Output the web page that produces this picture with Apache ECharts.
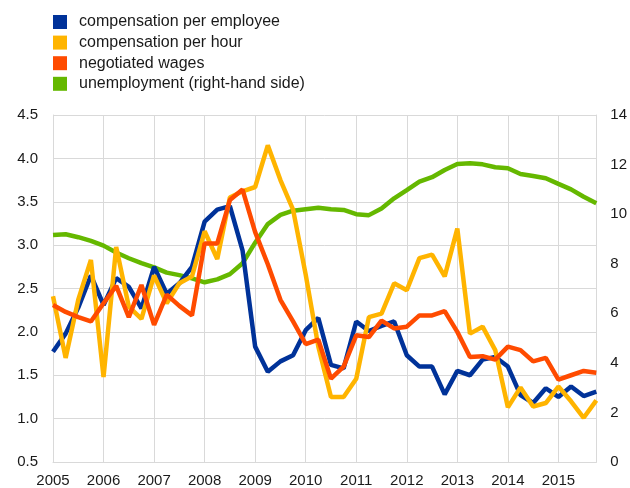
<!DOCTYPE html>
<html>
<head>
<meta charset="utf-8">
<script src="https://cdn.jsdelivr.net/npm/echarts@6/dist/echarts.min.js"></script>
<style>
  html, body { margin: 0; padding: 0; background: #fff; }
  #chart { width: 630px; height: 488px; }
</style>
</head>
<body>
<div id="chart"></div>
<script>
  // quarterly data, 2005 Q1 - 2015 Q4
  var years = ["2005", "2006", "2007", "2008", "2009", "2010", "2011", "2012", "2013", "2014", "2015"];
  var quarters = [];
  years.forEach(function (y) {
    ["Q1", "Q2", "Q3", "Q4"].forEach(function (q) { quarters.push(y + " " + q); });
  });

  var compPerEmployee = [1.77, 1.98, 2.28, 2.65, 2.31, 2.62, 2.52, 2.27, 2.75, 2.44, 2.56, 2.75,
    3.27, 3.41, 3.45, 2.94, 1.83, 1.54, 1.66, 1.73, 2.02, 2.16, 1.62, 1.58,
    2.12, 2.01, 2.07, 2.12, 1.73, 1.60, 1.60, 1.28, 1.55, 1.50, 1.68, 1.71,
    1.60, 1.27, 1.18, 1.35, 1.25, 1.37, 1.26, 1.31];
  var compPerHour = [2.41, 1.70, 2.37, 2.83, 1.48, 2.98, 2.29, 2.15, 2.65, 2.33, 2.56, 2.64,
    3.16, 2.84, 3.55, 3.62, 3.67, 4.15, 3.75, 3.41, 2.66, 1.83, 1.25, 1.25,
    1.46, 2.17, 2.21, 2.56, 2.48, 2.85, 2.89, 2.64, 3.19, 1.98, 2.06, 1.79,
    1.13, 1.36, 1.14, 1.18, 1.37, 1.20, 1.01, 1.21];
  var negotiatedWages = [2.31, 2.23, 2.17, 2.12, 2.33, 2.53, 2.17, 2.54, 2.08, 2.43, 2.30, 2.19,
    3.02, 3.02, 3.52, 3.64, 3.15, 2.78, 2.37, 2.12, 1.86, 1.91, 1.46, 1.60,
    1.96, 1.94, 2.13, 2.04, 2.06, 2.19, 2.19, 2.24, 2.00, 1.71, 1.72, 1.68,
    1.83, 1.79, 1.66, 1.70, 1.45, 1.50, 1.55, 1.53];
  var unemployment = [9.16, 9.19, 9.07, 8.92, 8.73, 8.45, 8.22, 8.02, 7.85, 7.64, 7.54, 7.41,
    7.25, 7.37, 7.58, 8.02, 8.85, 9.60, 9.97, 10.14, 10.20, 10.26, 10.20, 10.17,
    10.00, 9.96, 10.23, 10.64, 10.97, 11.31, 11.49, 11.78, 12.02, 12.05, 12.01, 11.89,
    11.85, 11.62, 11.54, 11.45, 11.22, 11.00, 10.70, 10.44];

  var gridColor = "#d9d9d9";
  var textColor = "#1a1a1a";
  var font = "Liberation Sans, Arial, sans-serif";

  var chart = echarts.init(document.getElementById("chart"), null, { renderer: "canvas" });
  chart.setOption({
    animation: false,
    textStyle: { fontFamily: font },
    legend: {
      orient: "vertical",
      left: 53,
      top: 14,
      padding: 0,
      icon: "rect",
      itemWidth: 14,
      itemHeight: 14,
      itemGap: 4.6,
      selectedMode: false,
      textStyle: { fontSize: 16, color: textColor, fontFamily: font, padding: [0, 0, 0, 7] },
      data: ["compensation per employee", "compensation per hour", "negotiated wages", "unemployment (right-hand side)"]
    },
    grid: { left: 53, right: 33, top: 115, bottom: 26 },
    xAxis: {
      type: "category",
      boundaryGap: false,
      data: quarters,
      axisLine: { show: true, lineStyle: { color: gridColor } },
      axisTick: { show: false },
      axisLabel: {
        interval: 3,
        fontSize: 15,
        color: textColor,
        margin: 11,
        formatter: function (v) { return v.slice(0, 4); }
      },
      splitLine: { show: true, interval: 3, lineStyle: { color: gridColor } }
    },
    yAxis: [
      {
        type: "value",
        min: 0.5,
        max: 4.5,
        interval: 0.5,
        axisLine: { show: true, lineStyle: { color: gridColor } },
        axisTick: { show: false },
        axisLabel: {
          fontSize: 15,
          color: textColor,
          margin: 15,
          formatter: function (v) { return v.toFixed(1); }
        },
        splitLine: { show: true, lineStyle: { color: gridColor } }
      },
      {
        type: "value",
        min: 0,
        max: 14,
        interval: 2,
        axisLine: { show: true, lineStyle: { color: gridColor } },
        axisTick: { show: false },
        axisLabel: { fontSize: 15, color: textColor, margin: 14 },
        splitLine: { show: false }
      }
    ],
    series: [
      {
        name: "unemployment (right-hand side)",
        type: "line",
        yAxisIndex: 1,
        data: unemployment,
        showSymbol: false,
        itemStyle: { color: "#65b800" },
        lineStyle: { width: 4.5, color: "#65b800" }
      },
      {
        name: "compensation per employee",
        type: "line",
        data: compPerEmployee,
        showSymbol: false,
        itemStyle: { color: "#003299" },
        lineStyle: { width: 4.5, color: "#003299" }
      },
      {
        name: "compensation per hour",
        type: "line",
        data: compPerHour,
        showSymbol: false,
        itemStyle: { color: "#ffb400" },
        lineStyle: { width: 4.5, color: "#ffb400" }
      },
      {
        name: "negotiated wages",
        type: "line",
        data: negotiatedWages,
        showSymbol: false,
        itemStyle: { color: "#ff4b00" },
        lineStyle: { width: 4.5, color: "#ff4b00" }
      }
    ]
  });
</script>
</body>
</html>
